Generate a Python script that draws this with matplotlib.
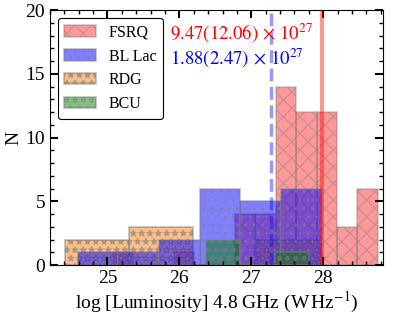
import numpy as np
import matplotlib
matplotlib.use("Agg")
import matplotlib.pyplot as plt

plt.rcParams['font.family'] = ['Liberation Serif', 'DejaVu Serif']
plt.rcParams['mathtext.fontset'] = 'stix'
plt.rcParams['hatch.linewidth'] = 1.0

# histogram data: left edge of first bin, bin width, counts
fsrq_start, fsrq_width = 25.074, 0.2833
fsrq_counts = [1, 0, 0, 1, 0, 0, 4, 4, 14, 12, 12, 3, 6]

bll_start, bll_width = 24.586, 0.565
bll_counts = [1, 1, 2, 6, 5, 6]

rdg_start, rdg_width = 24.41, 0.889
rdg_counts = [2, 3, 0, 2]

bcu_start, bcu_width = 26.37, 0.479
bcu_counts = [2, 0, 1]

# medians (log10 of 9.47e27 and 1.88e27)
fsrq_median = np.log10(9.47e27)
bll_median = np.log10(1.88e27)


def edges(start, width, counts):
    return start + width * np.arange(len(counts) + 1)


fig = plt.figure(figsize=(3.96, 3.17), dpi=100)
ax = fig.add_axes([0.126, 0.164, 0.841, 0.804])

groups = [
    ('FSRQ', fsrq_start, fsrq_width, fsrq_counts, 'red', 0.4, 'xx'),
    ('RDG', rdg_start, rdg_width, rdg_counts, 'C1', 0.5, '**'),
    ('BL Lac', bll_start, bll_width, bll_counts, 'blue', 0.5, '..'),
    ('BCU', bcu_start, bcu_width, bcu_counts, 'green', 0.5, 'oo'),
]
handles = {}
for name, s, w, c, col, a, h in groups:
    e = edges(s, w, c)
    _, _, patches = ax.hist(e[:-1] + w / 2, bins=e, weights=c,
                            color=col, alpha=a, edgecolor='grey',
                            linewidth=1.2, hatch=h, label=name)
    handles[name] = patches[0]

ax.axvline(fsrq_median, color='red', alpha=0.4, lw=3)
ax.axvline(bll_median, color='blue', alpha=0.4, lw=2.5, ls='--')

ax.text(25.87, 18.2, r'$9.47(12.06)\,\times\,10^{27}$', color='red',
        fontsize=13.5, va='center')
ax.text(25.87, 16.2, r'$1.88(2.47)\,\times\,10^{27}$', color='blue',
        fontsize=13.5, va='center')

ax.set_xlim(24.2, 28.83)
ax.set_ylim(0, 20)
ax.set_xticks([25, 26, 27, 28])
ax.set_yticks([0, 5, 10, 15, 20])
ax.set_xticks(np.arange(24.2, 28.9, 0.2), minor=True)
ax.set_yticks(np.arange(0, 21, 1), minor=True)
ax.tick_params(which='both', direction='in', top=True, right=True,
               labelsize=14)
ax.tick_params(which='major', length=6, width=1.5)
ax.tick_params(which='minor', length=3, width=1)

ax.set_xlabel(r'log [Luminosity] 4.8 GHz (W$\,$Hz$^{-1}$)', fontsize=14,
              labelpad=2)
ax.set_ylabel('N', fontsize=14, labelpad=2)

order = ['FSRQ', 'BL Lac', 'RDG', 'BCU']
leg = ax.legend([handles[n] for n in order], order, loc='upper left',
                fontsize=11.5, frameon=True, fancybox=True, framealpha=1,
                edgecolor='black')
leg.get_frame().set_linewidth(0.8)

fig.savefig('out.png', dpi=100)
